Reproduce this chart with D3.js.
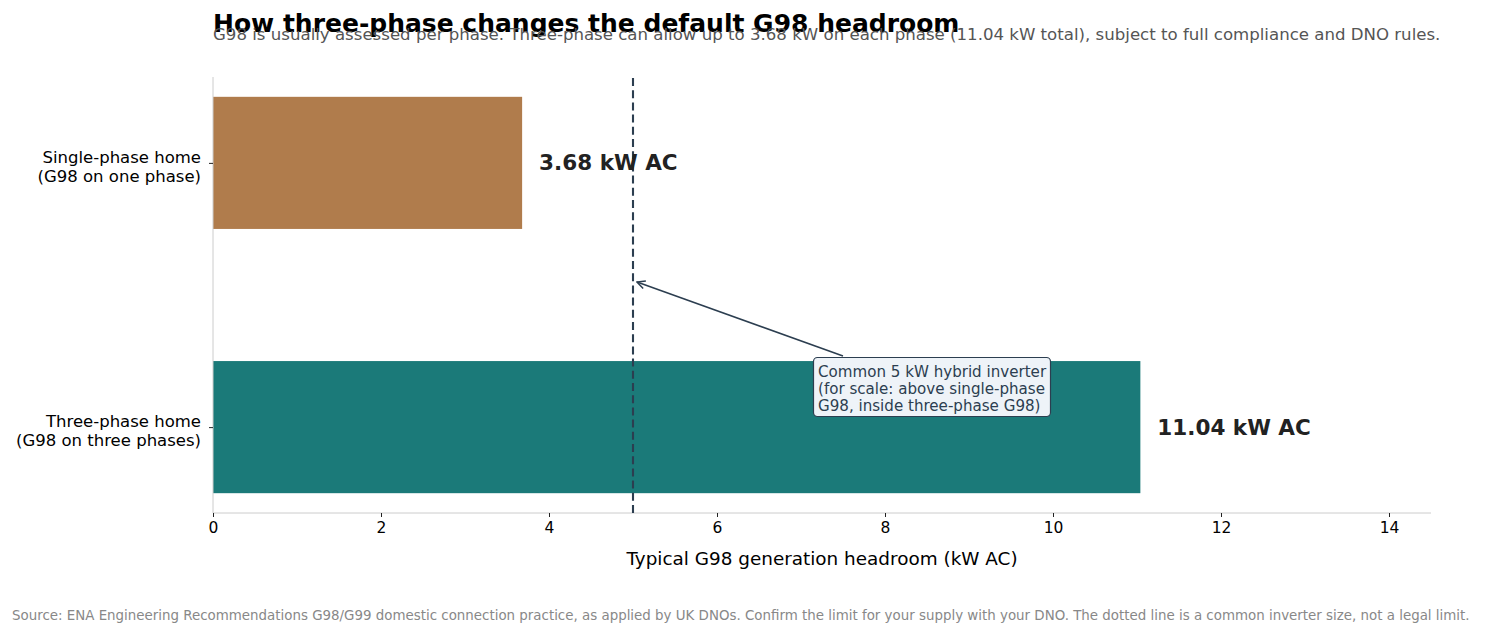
<!DOCTYPE html>
<html><head><meta charset="utf-8">
<script src="https://cdn.jsdelivr.net/npm/d3@7"></script>
<style>body{margin:0;background:#fff}svg{display:block;font-family:"DejaVu Sans",sans-serif}</style>
</head><body><svg id="c" width="1485" height="633"></svg>
<script>
const categories = ["Single-phase home\n(G98 on one phase)", "Three-phase home\n(G98 on three phases)"];
const values = [3.68, 11.04];
const valueLabels = ["3.68 kW AC", "11.04 kW AC"];
const barColors = ["#b07c4c", "#1b7a79"];
const xTicks = [0, 2, 4, 6, 8, 10, 12, 14];
const inverterKW = [5];
const annotationLines = ["Common 5 kW hybrid inverter", "(for scale: above single-phase", "G98, inside three-phase G98)"];

const svg = d3.select("#c");
const L = 213, R = 1431, T = 77, B = 513;
const x = d3.scaleLinear().domain([0, 14.5]).range([L, R]);
const y = d3.scaleLinear().domain([-0.325, 1.325]).range([T, B]);
const barH = y(0.5) - y(0);

// title
svg.append("text").attr("x", L).attr("y", 32).attr("font-size", 25).attr("font-weight", "bold").attr("fill", "#000")
  .text("How three-phase changes the default G98 headroom");
svg.append("text").attr("x", L).attr("y", 39.5).attr("font-size", 16.6).attr("fill", "#555")
  .text("G98 is usually assessed per phase. Three-phase can allow up to 3.68 kW on each phase (11.04 kW total), subject to full compliance and DNO rules.");

// bars
svg.selectAll("rect.bar").data(values).join("rect").attr("class", "bar")
  .attr("x", x(0)).attr("y", (d, i) => y(i) - barH / 2)
  .attr("width", d => x(d) - x(0)).attr("height", barH)
  .attr("fill", (d, i) => barColors[i]);

// spines
svg.append("line").attr("x1", L).attr("x2", L).attr("y1", T).attr("y2", B).attr("stroke", "#cccccc").attr("stroke-width", 1);
svg.append("line").attr("x1", L).attr("x2", R).attr("y1", B).attr("y2", B).attr("stroke", "#cccccc").attr("stroke-width", 1);

// dashed inverter line
svg.selectAll("line.inv").data(inverterKW).join("line").attr("class", "inv")
  .attr("x1", d => x(d)).attr("x2", d => x(d)).attr("y1", B).attr("y2", T)
  .attr("stroke", "#2c3e50").attr("stroke-width", 2.1).attr("stroke-dasharray", "8,4.2");

// x axis
const xa = svg.append("g").attr("transform", `translate(0,${B})`)
  .call(d3.axisBottom(x).tickValues(xTicks).tickSize(4).tickPadding(5).tickFormat(d3.format("d")));
xa.select(".domain").remove();
xa.selectAll("line").attr("stroke", "#222");
xa.selectAll("text").attr("font-size", 15.5).attr("fill", "#000").attr("font-family", "DejaVu Sans");

// y axis
const ya = svg.append("g").attr("transform", `translate(${L},0)`)
  .call(d3.axisLeft(y).tickValues([0, 1]).tickSize(4).tickPadding(8).tickFormat(""));
ya.select(".domain").remove();
ya.selectAll("line").attr("stroke", "#222");
ya.selectAll(".tick").each(function (d) {
  const lines = categories[d].split("\n");
  const t = d3.select(this).append("text").attr("x", -12).attr("text-anchor", "end")
    .attr("font-size", 16.5).attr("fill", "#000").attr("font-family", "DejaVu Sans");
  lines.forEach((ln, k) => t.append("tspan").attr("x", -12).attr("y", (k - 0.5) * 19.5 + 9).text(ln));
});

// value labels
svg.selectAll("text.val").data(values).join("text").attr("class", "val")
  .attr("x", d => x(d) + 17).attr("y", (d, i) => y(i) + 7.5)
  .attr("font-size", 21.5).attr("font-weight", "bold").attr("fill", "#222")
  .text((d, i) => valueLabels[i]);

// x label
svg.append("text").attr("x", (L + R) / 2).attr("y", 565).attr("text-anchor", "middle")
  .attr("font-size", 18.4).attr("fill", "#000").text("Typical G98 generation headroom (kW AC)");

// annotation
const defs = svg.append("defs");
defs.append("marker").attr("id", "ah").attr("viewBox", "0 0 10 10").attr("refX", 9).attr("refY", 5)
  .attr("markerWidth", 10).attr("markerHeight", 10).attr("markerUnits", "userSpaceOnUse").attr("orient", "auto")
  .append("path").attr("d", "M1,1 L9,5 L1,9").attr("fill", "none").attr("stroke", "#2c3e50").attr("stroke-width", 1.5);
const ax = x(5) + 4, ay = y(0.5) - 13;
svg.append("line").attr("x1", 843).attr("y1", 356).attr("x2", ax).attr("y2", ay)
  .attr("stroke", "#2c3e50").attr("stroke-width", 1.5).attr("marker-end", "url(#ah)");
svg.append("rect").attr("x", 813.5).attr("y", 357.5).attr("width", 237).attr("height", 59).attr("rx", 4)
  .attr("fill", "#eef3f8").attr("stroke", "#2c3e50").attr("stroke-width", 1.2);
const at = svg.append("text").attr("font-size", 15.1).attr("fill", "#2c3e50");
annotationLines.forEach((ln, k) => at.append("tspan").attr("x", 818).attr("y", 376.5 + k * 17).text(ln));

// source
svg.append("text").attr("x", 12).attr("y", 620).attr("font-size", 13.4).attr("fill", "#888")
  .text("Source: ENA Engineering Recommendations G98/G99 domestic connection practice, as applied by UK DNOs. Confirm the limit for your supply with your DNO. The dotted line is a common inverter size, not a legal limit.");
</script></body></html>
